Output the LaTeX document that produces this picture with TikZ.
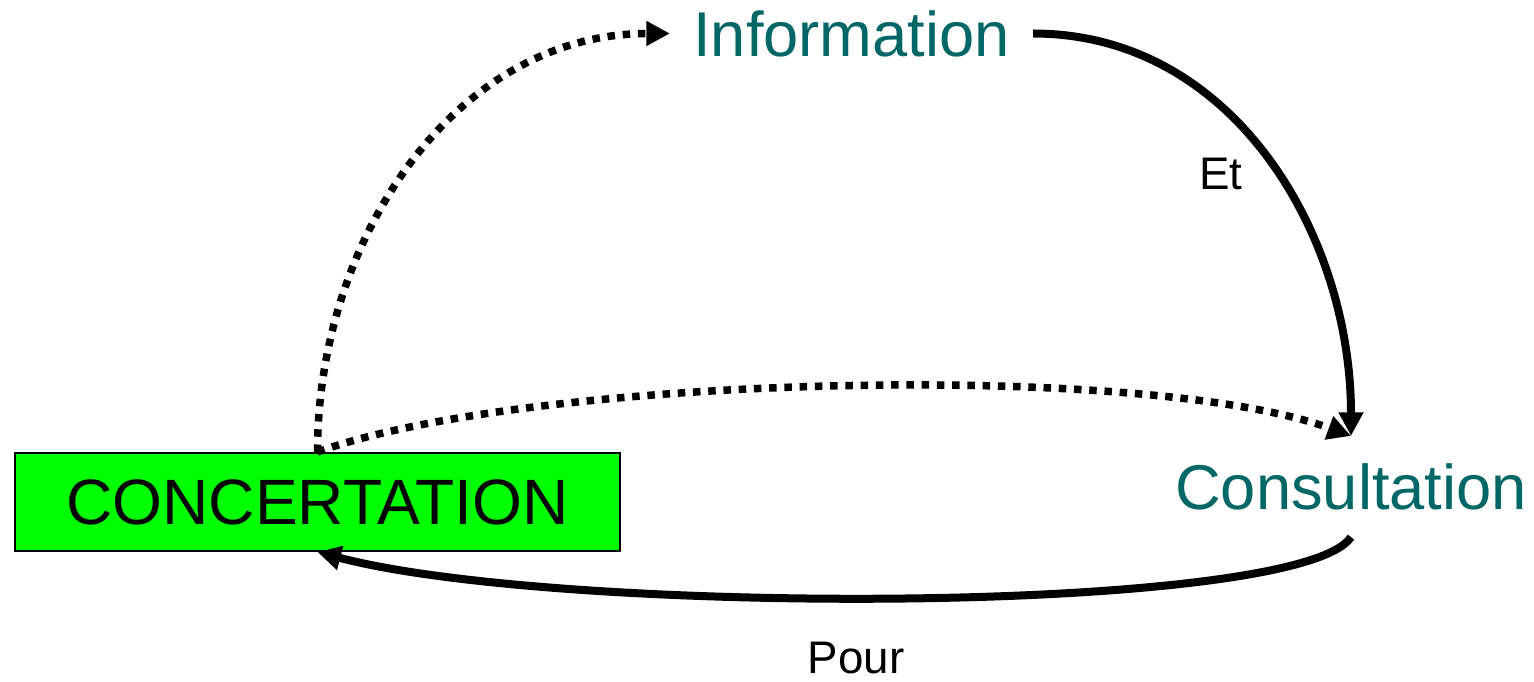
\documentclass[tikz,border=0pt]{standalone}
\usepackage{fontspec}
\setmainfont{Liberation Sans}
\usetikzlibrary{arrows.meta}
\definecolor{stageteal}{RGB}{0,102,102}
\definecolor{boxgreen}{RGB}{0,255,0}

\begin{document}
\begin{tikzpicture}[
    stage/.style={text=stageteal, font=\fontsize{36}{43}\selectfont, inner xsep=0.46cm, inner ysep=0.54cm},
    link/.style={font=\fontsize{26}{31}\selectfont, inner sep=0pt},
    solidarrow/.style={line width=0.16cm, -{Triangle[length=0.47cm,width=0.47cm]}},
    dotarrow/.style={solidarrow, line width=0.15cm, dash pattern=on 0.15cm off 0.155cm}
  ]
  \useasboundingbox (0,0) rectangle (30.68,13.62);

  \node[draw, line width=0.04cm, fill=boxgreen, minimum width=12.1cm, minimum height=1.96cm,
        font=\fontsize{36.5}{44}\selectfont] (concert) at (6.35,3.58) {CONCERTATION};
  \node[stage] (info)    at (17.03,12.95) {Information};
  \node[stage] (consult) at (27.02,3.89)  {Consultation};

  \node[link] (et)   at (24.42,10.14) {Et};
  \node[link] (pour) at (17.12,0.46)  {Pour};

  % dotted links from the box
  \path (concert.north) edge[dotarrow, out=90, in=180] (info.west);
  \path (concert.north) edge[dotarrow, out=20, in=160, looseness=0.55] (consult.north);

  % solid links
  \path (info.east) edge[solidarrow, out=0, in=90] (consult.north);
  \draw[solidarrow] (consult.south) .. controls (26,1.32) and (11.2,1.3) .. (concert.south);

\end{tikzpicture}
\end{document}
